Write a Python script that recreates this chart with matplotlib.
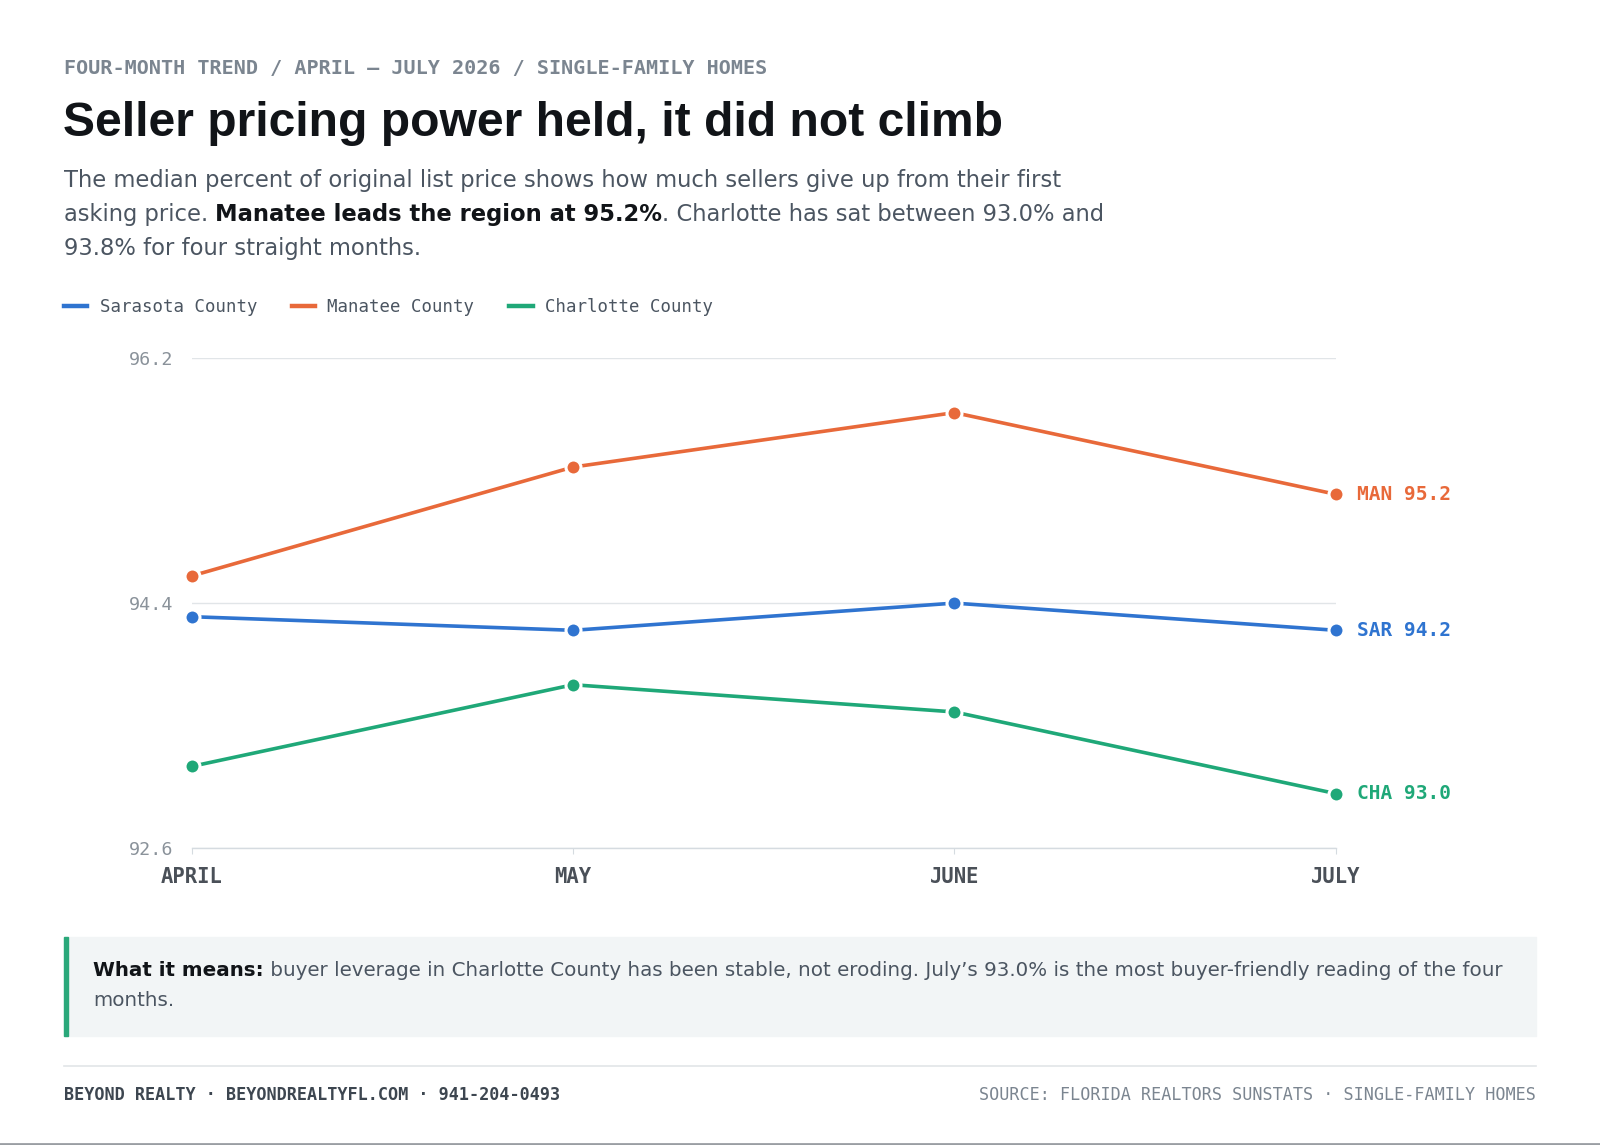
import matplotlib
matplotlib.use("Agg")
import matplotlib.pyplot as plt
from matplotlib.lines import Line2D

# ---------- data ----------
MONTHS = ["APRIL", "MAY", "JUNE", "JULY"]
COUNTIES = ["Sarasota County", "Manatee County", "Charlotte County"]
SHORT = ["SAR", "MAN", "CHA"]
SARASOTA = [94.3, 94.2, 94.4, 94.2]
MANATEE = [94.6, 95.4, 95.8, 95.2]
CHARLOTTE = [93.2, 93.8, 93.6, 93.0]
Y_TICKS = [92.6, 94.4, 96.2]

BLUE = "#2f74d0"; ORANGE = "#e8693a"; GREEN = "#1fa878"
INK = "#111418"; BODY = "#4b5561"; MUTED = "#7b8590"; RULE = "#e1e5e8"
MONO = "DejaVu Sans Mono"; SANS = "DejaVu Sans"

W, H = 1600, 1145
fig = plt.figure(figsize=(W / 100, H / 100), dpi=100)
fig.patch.set_facecolor("white")


def fx(x):
    return x / W


def fy(y):
    return 1 - y / H


def runs(x, y, parts, size, family=SANS):
    """draw text pieces one after another on one line (mixed weights)"""
    r = fig.canvas.get_renderer()
    for txt, weight, color in parts:
        t = fig.text(fx(x), fy(y), txt, fontsize=size, family=family,
                     fontweight=weight, color=color, va="center", ha="left")
        bb = t.get_window_extent(renderer=r)
        x += bb.width


# ---------- header ----------
fig.text(fx(64), fy(68.5), "FOUR-MONTH TREND / APRIL — JULY 2026 / SINGLE-FAMILY HOMES",
         fontsize=14.5, family=MONO, fontweight="bold", color=MUTED, va="center")
fig.text(fx(63), fy(124), "Seller pricing power held, it did not climb",
         fontsize=34.6, family="Liberation Sans", fontweight="bold", color=INK, va="center")

sub = 16.3
runs(64, 180, [("The median percent of original list price shows how much sellers give up from their first", "normal", BODY)], sub)
runs(64, 214.5, [("asking price. ", "normal", BODY),
                 ("Manatee leads the region at 95.2%", "bold", INK),
                 (". Charlotte has sat between 93.0% and", "normal", BODY)], sub)
runs(64, 248.5, [("93.8% for four straight months.", "normal", BODY)], sub)

# ---------- chart ----------
ax = fig.add_axes([fx(191.8), fy(848), fx(1335.7) - fx(191.8), (848 - 358.2) / H])
xs = list(range(len(MONTHS)))
series = [SARASOTA, MANATEE, CHARLOTTE]
colors = [BLUE, ORANGE, GREEN]
handles = []
for vals, c, name, short in zip(series, colors, COUNTIES, SHORT):
    ax.plot(xs, vals, "-o", color=c, lw=2.6, ms=10.8, mfc=c, mec="white",
            mew=2.2, clip_on=False, zorder=3, label=name)
    handles.append(Line2D([], [], color=c, lw=3.2))
    ax.annotate(f"{short} {vals[-1]:.1f}", (xs[-1], vals[-1]), textcoords="offset points",
                xytext=(15, 0), va="center", ha="left", fontsize=14, family=MONO,
                fontweight="bold", color=c, annotation_clip=False)

ax.set_xlim(0, 3)
ax.set_ylim(Y_TICKS[0], Y_TICKS[-1])
ax.set_yticks(Y_TICKS)
ax.set_yticklabels([f"{v:.1f}" for v in Y_TICKS], family=MONO, fontsize=13.2, color="#8a929a")
ax.tick_params(axis="y", length=0, pad=13.5)
ax.set_xticks(xs)
ax.set_xticklabels(MONTHS, family=MONO, fontsize=14.8, fontweight="bold", color="#4a5058")
ax.tick_params(axis="x", length=4.5, width=0.8, color="#d5dbe0", pad=9.5)
ax.grid(axis="y", color=RULE, lw=1)
ax.set_axisbelow(True)
for s in ("top", "right", "left"):
    ax.spines[s].set_visible(False)
ax.spines["bottom"].set_color("#d5dbe0")
ax.spines["bottom"].set_linewidth(1)
ax.patch.set_alpha(0)

fig.legend(handles, COUNTIES, loc="center left", bbox_to_anchor=(fx(64), fy(307.5)),
           ncol=3, frameon=False, handlelength=1.35, handletextpad=0.7,
           columnspacing=2.0, borderpad=0, borderaxespad=0,
           prop={"family": MONO, "size": 12.5}, labelcolor=BODY)

# ---------- callout ----------
fig.patches.append(plt.Rectangle((fx(64), fy(1035.5)), fx(1536) - fx(64), (1035.5 - 937) / H,
                                 transform=fig.transFigure, color="#f2f5f6", zorder=0))
fig.patches.append(plt.Rectangle((fx(64), fy(1035.5)), fx(4), (1035.5 - 937) / H,
                                 transform=fig.transFigure, color="#2aa87a", zorder=1))
runs(93, 970, [("What it means:", "bold", INK),
               (" buyer leverage in Charlotte County has been stable, not eroding. July\u2019s 93.0% is the most buyer-friendly reading of the four", "normal", BODY)], 14.33)
runs(93, 1000.5, [("months.", "normal", BODY)], 14.33)

# ---------- footer ----------
fig.add_artist(Line2D([fx(64), fx(1536)], [fy(1065.5)] * 2, color=RULE, lw=1.2))
fig.text(fx(64), fy(1094.5), "BEYOND REALTY · BEYONDREALTYFL.COM · 941-204-0493",
         fontsize=12.05, family=MONO, fontweight="bold", color="#3d4650", va="center")
fig.text(fx(1536), fy(1094.5), "SOURCE: FLORIDA REALTORS SUNSTATS · SINGLE-FAMILY HOMES",
         fontsize=12.05, family=MONO, color=MUTED, va="center", ha="right")
fig.add_artist(Line2D([0, 1], [fy(1144)] * 2, color="#9a9ea3", lw=2))

fig.savefig("out.png", dpi=100, facecolor="white")
